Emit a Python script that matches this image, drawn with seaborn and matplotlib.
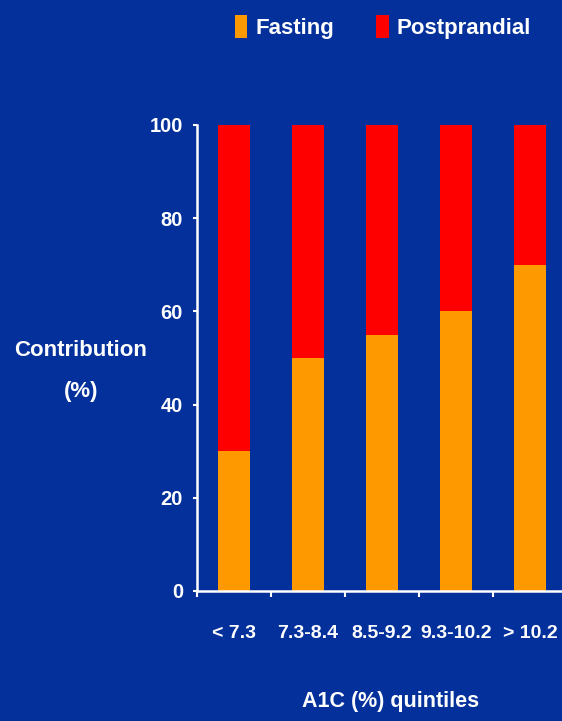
import matplotlib
matplotlib.use("Agg")
import matplotlib.pyplot as plt
from matplotlib import font_manager
from matplotlib.patches import Patch
import numpy as np
import pandas as pd
import seaborn as sns

# Chart data
quintiles = ["< 7.3", "7.3-8.4", "8.5-9.2", "9.3-10.2", "> 10.2"]
fasting = [30, 50, 55, 60, 70]
postprandial = [70, 50, 45, 40, 30]
y_ticks = [0, 20, 40, 60, 80, 100]

BG = "#03309a"
ORANGE = "#ff9900"
RED = "#ff0000"
WHITE = "#ffffff"

sns.set_theme(style="white")
installed = {f.name for f in font_manager.fontManager.ttflist}
main_font = "Liberation Sans Narrow" if "Liberation Sans Narrow" in installed else "Liberation Sans"
plt.rcParams["font.family"] = [main_font, "DejaVu Sans"]
plt.rcParams["font.weight"] = "bold"

df = pd.DataFrame({
    "quintile": quintiles,
    "fasting": fasting,
    "total": np.array(fasting) + np.array(postprandial),
})

W, H = 562, 721
fig = plt.figure(figsize=(W / 100, H / 100), dpi=100, facecolor=BG)
ax = fig.add_axes([197 / W, 1 - 591 / H, 370 / W, 466 / H])
ax.set_facecolor(BG)

# Stacked bars: full height in red, fasting share in orange on top
sns.barplot(data=df, x="quintile", y="total", color=RED, width=0.42,
            saturation=1, ax=ax, order=quintiles, zorder=2)
sns.barplot(data=df, x="quintile", y="fasting", color=ORANGE, width=0.42,
            saturation=1, ax=ax, order=quintiles, zorder=3)
for p in ax.patches:
    p.set_edgecolor("none")

ax.set_xlim(-0.5, 4.5)
ax.set_ylim(0, 100)

# Axes lines
for side in ("top", "right"):
    ax.spines[side].set_visible(False)
for side in ("left", "bottom"):
    ax.spines[side].set_color(WHITE)
    ax.spines[side].set_linewidth(1.8)
    ax.spines[side].set_zorder(5)

ax.set_yticks(y_ticks)
ax.set_yticklabels([str(v) for v in y_ticks])
ax.tick_params(axis="y", colors=WHITE, length=3, width=1.5, pad=7,
               labelsize=14.5, left=True, direction="out")

# Category labels at bar centres, tick marks between categories
ax.set_xticks(range(len(quintiles)))
ax.set_xticklabels(quintiles)
ax.set_xticks(np.arange(-0.5, len(quintiles), 1.0), minor=True)
ax.tick_params(axis="x", which="major", length=0, colors=WHITE,
               labelsize=14, pad=24.5)
ax.tick_params(axis="x", which="minor", length=4.5, width=1.5,
               color=WHITE, bottom=True, direction="out")
for lab in ax.get_xticklabels() + ax.get_yticklabels():
    lab.set_fontweight("bold")

ax.set_xlabel("A1C (%) quintiles", color=WHITE, fontsize=15.5, fontweight="bold")
ax.xaxis.set_label_coords((391 - 197) / 370, -(702 - 591) / 466)
ax.xaxis.label.set_va("center")
ax.set_ylabel("Contribution\n(%)", color=WHITE, fontsize=16,
              fontweight="bold", rotation=0, ha="center", va="center",
              linespacing=2.3)
ax.yaxis.set_label_coords((81 - 197) / 370, (591 - 371) / 466)

handles = [Patch(facecolor=ORANGE, edgecolor="none", label="Fasting"),
           Patch(facecolor=RED, edgecolor="none", label="Postprandial")]
leg = fig.legend(handles=handles, loc="center", ncol=2, frameon=False,
                 bbox_to_anchor=(383 / W, 1 - 27 / H), fontsize=16,
                 handlelength=0.55, handleheight=1.25, handletextpad=0.36,
                 columnspacing=1.9, borderpad=0, borderaxespad=0)
for t in leg.get_texts():
    t.set_color(WHITE)
    t.set_fontweight("bold")

fig.savefig("out.png", dpi=100, facecolor=BG)
